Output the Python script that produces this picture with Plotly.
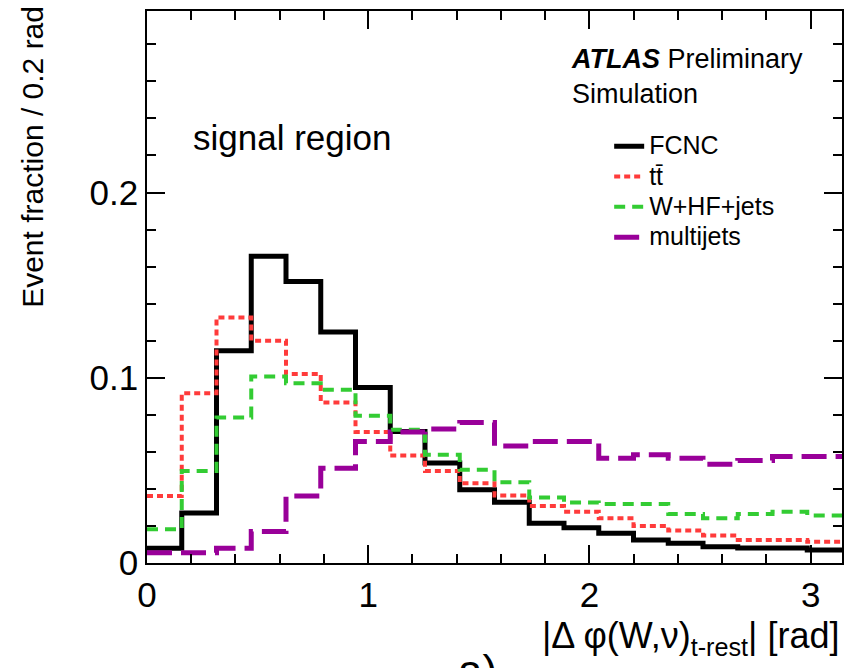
import numpy as np
import plotly.graph_objects as go

# binning: 20 bins over [0, pi]
n_bins = 20
x_max = np.pi

# event fractions per bin
fcnc = [0.008, 0.027, 0.1146, 0.1656, 0.152, 0.1247, 0.0948, 0.071, 0.054, 0.0395,
        0.0328, 0.0215, 0.019, 0.016, 0.0124, 0.0106, 0.0088, 0.0081, 0.0081, 0.007]
ttbar = [0.0362, 0.0917, 0.1326, 0.12, 0.102, 0.0867, 0.0707, 0.058, 0.0497, 0.043,
         0.0364, 0.0308, 0.0277, 0.0241, 0.02, 0.0175, 0.0148, 0.0124, 0.0124, 0.0115]
whf = [0.0182, 0.0497, 0.0786, 0.1007, 0.0971, 0.0935, 0.0795, 0.0719, 0.0584, 0.0503,
       0.0436, 0.0353, 0.0326, 0.0319, 0.0319, 0.0265, 0.0241, 0.0265, 0.0277, 0.0256]
multijets = [0.0056, 0.0056, 0.008, 0.017, 0.0362, 0.0512, 0.0656, 0.0707, 0.0724, 0.0759,
             0.0632, 0.0656, 0.0656, 0.0566, 0.0584, 0.0566, 0.0533, 0.0553, 0.0575, 0.0575]

names = ["FCNC", "tt\u0304", "W+HF+jets", "multijets"]
x_ticks = [0, 1, 2, 3]
y_ticks = [0, 0.1, 0.2]

edges = np.linspace(0, x_max, n_bins + 1)
FONT = "Liberation Sans, Arial, Helvetica, sans-serif"

styles = [
    dict(color="black", width=5, dash="solid"),
    dict(color="#ff3b3b", width=4, dash="6px,4px"),
    dict(color="#33cc33", width=4, dash="11px,7px"),
    dict(color="#990099", width=5, dash="25px,9px"),
]

fig = go.Figure()
for name, vals, st in zip(names, [fcnc, ttbar, whf, multijets], styles):
    fig.add_trace(go.Scatter(
        x=edges, y=list(vals) + [vals[-1]],
        mode="lines", line_shape="hv",
        # bigger visible text, legend rows spaced from the smaller legend font
        name=f'<span style="font-size:25px">{name}</span>',
        line=st,
    ))

axis_common = dict(
    showgrid=False, zeroline=False, showline=True, linecolor="black", linewidth=1.5,
    mirror="allticks", ticks="inside", tickcolor="black", tickwidth=1.5, ticklen=18,
    tickfont=dict(family=FONT, size=35, color="black"),
)

fig.update_xaxes(
    range=[0, x_max], tickvals=x_ticks, ticktext=[str(t) for t in x_ticks],
    minor=dict(dtick=0.2, ticks="inside", ticklen=9, tickcolor="black", tickwidth=1.5),
    **axis_common,
)
fig.update_yaxes(
    range=[0, 0.298], tickvals=y_ticks, ticktext=["0", "0.1", "0.2"],
    minor=dict(dtick=0.02, ticks="inside", ticklen=9, tickcolor="black", tickwidth=1.5),
    **axis_common,
)

fig.update_layout(
    width=846, height=668,
    margin=dict(l=147, r=2, t=11, b=105),
    plot_bgcolor="white", paper_bgcolor="white",
    font=dict(family=FONT, color="black"),
    legend=dict(
        x=0.665, y=0.7915, xanchor="left", yanchor="top",
        bgcolor="rgba(0,0,0,0)", font=dict(family=FONT, size=21),
        tracegroupgap=0,
    ),
)

# y title, aligned to the top of the axis (ROOT style)
fig.add_annotation(
    text="Event fraction / 0.2 rad", textangle=-90,
    xref="paper", yref="paper", x=-0.164, y=1.013, xanchor="center", yanchor="top",
    showarrow=False, font=dict(family=FONT, size=30),
)
# x title, aligned to the right end of the axis
fig.add_annotation(
    text="|\u0394 \u03c6(W,\u03bd)<sub>t-rest</sub>| [rad]",
    xref="paper", yref="paper", x=1.0, y=-0.09, xanchor="right", yanchor="top",
    showarrow=False, font=dict(family=FONT, size=36),
)
fig.add_annotation(
    text="signal region", xref="paper", yref="paper", x=0.064, y=0.771,
    xanchor="left", yanchor="middle", showarrow=False, font=dict(family=FONT, size=35),
)
fig.add_annotation(
    text="<b><i>ATLAS</i></b> Preliminary<br>Simulation", align="left",
    xref="paper", yref="paper", x=0.607, y=0.943, xanchor="left", yanchor="top",
    showarrow=False, font=dict(family=FONT, size=27),
)
# panel label, cut by the bottom edge as in the source
fig.add_annotation(
    text="a)", xref="paper", yref="paper", x=0.445, y=-0.147, xanchor="left", yanchor="top",
    showarrow=False, font=dict(family=FONT, size=44),
)

# page body margin would shift the figure by 8px
fig.write_html("out.html", config={"displayModeBar": False},
               post_script="document.body.style.margin='0';")
